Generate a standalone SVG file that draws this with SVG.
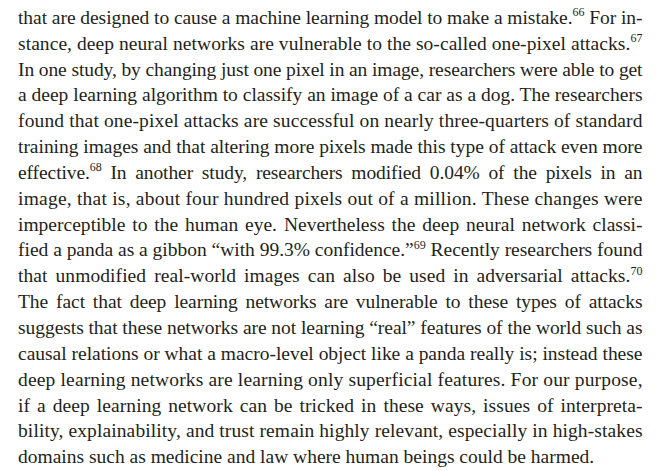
<svg xmlns="http://www.w3.org/2000/svg" width="659" height="471" viewBox="0 0 659 471">
<style>
text{font-family:"Liberation Serif","Times New Roman",serif;font-size:19.5px;fill:#231f20;}
.s{font-size:12px;}
</style>
<rect width="659" height="471" fill="#ffffff"/>
<g id="page-text">
<text x="18" y="23.8" textLength="624.5" lengthAdjust="spacing">that are designed to cause a machine learning model to make a mistake.<tspan class="s" dy="-7.5">66</tspan><tspan dy="7.5"> For in-</tspan></text>
<text x="18" y="49.65" textLength="624.5" lengthAdjust="spacing">stance, deep neural networks are vulnerable to the so-called one-pixel attacks.<tspan class="s" dy="-7.5">67</tspan></text>
<text x="18" y="75.5" textLength="624.5" lengthAdjust="spacing">In one study, by changing just one pixel in an image, researchers were able to get</text>
<text x="18" y="101.35" textLength="624.5" lengthAdjust="spacing">a deep learning algorithm to classify an image of a car as a dog. The researchers</text>
<text x="18" y="127.2" textLength="624.5" lengthAdjust="spacing">found that one-pixel attacks are successful on nearly three-quarters of standard</text>
<text x="18" y="153.05" textLength="624.5" lengthAdjust="spacing">training images and that altering more pixels made this type of attack even more</text>
<text x="18" y="178.9" textLength="624.5" lengthAdjust="spacing" word-spacing="4">effective.<tspan class="s" dy="-7.5">68</tspan><tspan dy="7.5"> In another study, researchers modified 0.04% of the pixels in an</tspan></text>
<text x="18" y="204.75" textLength="624.5" lengthAdjust="spacing">image, that is, about four hundred pixels out of a million. These changes were</text>
<text x="18" y="230.6" textLength="624.5" lengthAdjust="spacing" word-spacing="2">imperceptible to the human eye. Nevertheless the deep neural network classi-</text>
<text x="18" y="256.45" textLength="624.5" lengthAdjust="spacing">fied a panda as a gibbon “with 99.3% confidence.”<tspan class="s" dy="-7.5">69</tspan><tspan dy="7.5"> Recently researchers found</tspan></text>
<text x="18" y="282.3" textLength="624.5" lengthAdjust="spacing" word-spacing="3">that unmodified real-world images can also be used in adversarial attacks.<tspan class="s" dy="-7.5">70</tspan></text>
<text x="18" y="308.15" textLength="624.5" lengthAdjust="spacing" word-spacing="3">The fact that deep learning networks are vulnerable to these types of attacks</text>
<text x="18" y="334" textLength="624.5" lengthAdjust="spacing">suggests that these networks are not learning “real” features of the world such as</text>
<text x="18" y="359.85" textLength="624.5" lengthAdjust="spacing">causal relations or what a macro-level object like a panda really is; instead these</text>
<text x="18" y="385.7" textLength="624.5" lengthAdjust="spacing">deep learning networks are learning only superficial features. For our purpose,</text>
<text x="18" y="411.55" textLength="624.5" lengthAdjust="spacing" word-spacing="2">if a deep learning network can be tricked in these ways, issues of interpreta-</text>
<text x="18" y="437.4" textLength="624.5" lengthAdjust="spacing">bility, explainability, and trust remain highly relevant, especially in high-stakes</text>
<text x="18" y="463.25">domains such as medicine and law where human beings could be harmed.</text>
</g>
</svg>
